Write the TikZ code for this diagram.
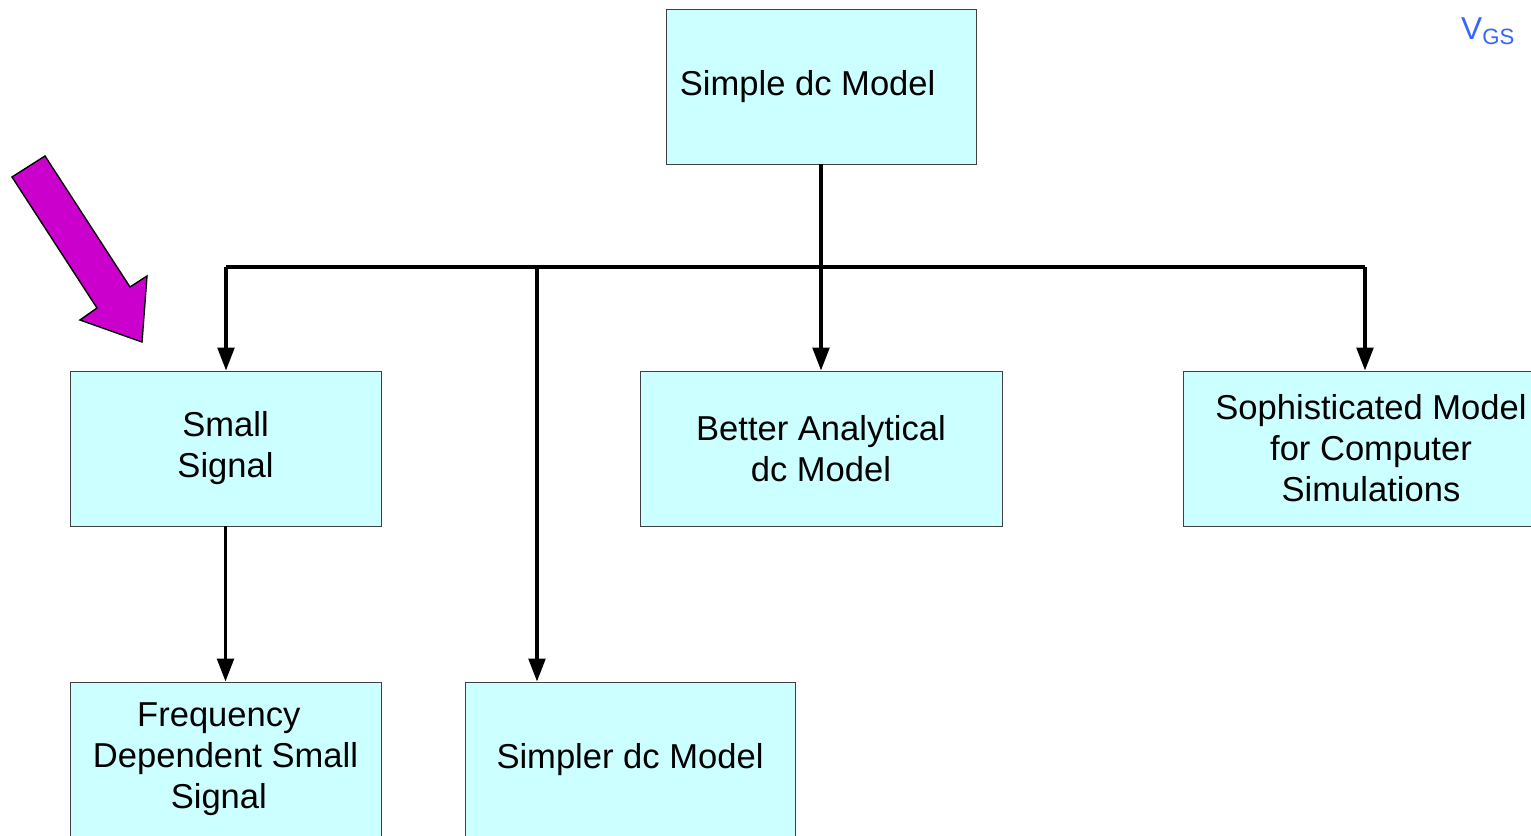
\documentclass[tikz,border=0pt]{standalone}
\usepackage{fontspec}
\setmainfont{Liberation Sans}
\usetikzlibrary{arrows.meta}
\definecolor{boxfill}{RGB}{204,255,255}
\definecolor{pointer}{RGB}{204,0,204}
\definecolor{vgsblue}{RGB}{51,102,255}

\begin{document}
\begin{tikzpicture}[x=0.03cm, y=-0.03cm,
	every node/.style={font=\fontsize{29.5}{35}\selectfont},
	model/.style={rectangle, draw=black!75, line width=0.8pt, fill=boxfill, align=center, minimum height=4.65cm, inner sep=0pt},
	link/.style={draw=black, line width=3pt, -{Triangle[length=0.69cm, width=0.5cm]}},
	bus/.style={draw=black, line width=3pt}]
			\useasboundingbox (0,0) rectangle (1531,835);
			\clip (0,0) rectangle (1531,835);
			
			\node[model, minimum width=9.3cm] (simple) at (821,86.5){Simple dc Model\hspace*{0.8cm}};
			\node[model, minimum width=9.33cm] (small) at (225.5,448.5){\raisebox{-0.09cm}{Small}\\\raisebox{-0.09cm}{Signal}};
			\node[model, minimum width=10.86cm] (better) at (821,448.5){Better Analytical\\dc Model};
			\node[model, minimum width=11.28cm] (soph) at (1371,448.5){Sophisticated Model\\for Computer\\Simulations};
			\node[model, minimum width=9.33cm] (freq) at (225.5,759.5){Frequency\hspace*{0.4cm}\\Dependent Small\hspace*{0.4cm}\\Signal\hspace*{0.4cm}};
			\node[model, minimum width=9.9cm] (simpler) at (630,759.5){\raisebox{0.2cm}{Simpler dc Model}};
			\node[text=vgsblue, inner sep=0pt, font=\fontsize{27}{32}\selectfont] (vgs) at (1488,31){V\textsubscript{GS}};
			
			\coordinate (busL) at (226,267);
			\coordinate (busM) at (537,267);
			\coordinate (busR) at (1365,267);
			
			\path[bus] (busL) -- (busR);
			\path[link] (simple.south) -- (better.north);
			\path[link] (busL) -- (busL |- small.north);
			\path[link] (busM) -- (busM |- simpler.north);
			\path[link] (busR) -- (busR |- soph.north);
			\path[link] (small.south) -- (small.south |- freq.north);
			
			% pointer arrow
			\draw[fill=pointer, line width=1.2pt, line join=miter] (12,177) -- (45,156) -- (130,287) -- (147,276) -- (142,342) -- (80,320) -- (97,308) -- cycle;
			\end{tikzpicture}
\end{document}
